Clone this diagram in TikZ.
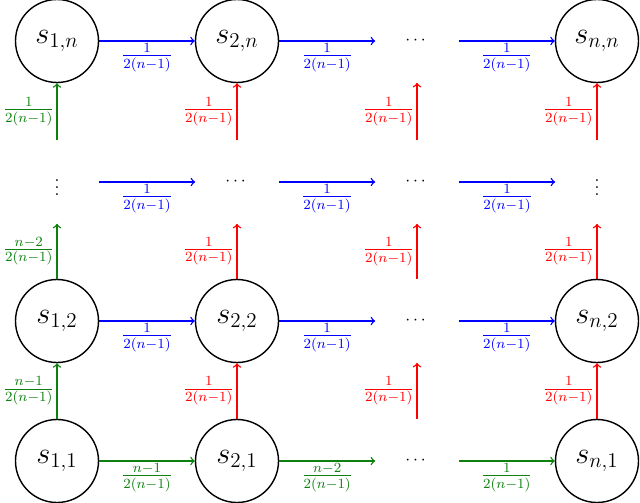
\documentclass[tikz,border=0pt]{standalone}
\usepackage{amsmath}
\usepackage{tikz}
\usetikzlibrary{calc}
\definecolor{dkgreen}{rgb}{0.05,0.5,0.05}
\newcommand{\pr}[2]{\frac{\textcolor{#1}{#2}}{\textcolor{#1}{2(n-1)}}}

\begin{document}
\begin{tikzpicture}[
	state/.style={circle, draw, thick, minimum size=1.66cm, inner sep=0pt, font=\LARGE},
	gap/.style={circle, minimum size=1.66cm, inner sep=0pt},
	arr/.style={->, thick},
	lb/.style={font=\large, inner sep=1pt}]
	\useasboundingbox (0,0) rectangle (12.8,10.04);
	% states
	\node[state] (s1n) at (1.14, 9.22) {$s_{1,n}$};
	\node[state] (s2n) at (4.74, 9.22) {$s_{2,n}$};
	\node[gap]   (d3n) at (8.34, 9.22) {$\cdots$};
	\node[state] (snn) at (11.94, 9.22) {$s_{n,n}$};
	\node[gap] (d1m) at (1.14, 6.4) {$\vdots$};
	\node[gap] (d2m) at (4.74, 6.4) {$\cdots$};
	\node[gap] (d3m) at (8.34, 6.4) {$\cdots$};
	\node[gap] (dnm) at (11.94, 6.4) {$\vdots$};
	\node[state] (s12) at (1.14, 3.62) {$s_{1,2}$};
	\node[state] (s22) at (4.74, 3.62) {$s_{2,2}$};
	\node[gap]   (d32) at (8.34, 3.62) {$\cdots$};
	\node[state] (sn2) at (11.94, 3.62) {$s_{n,2}$};
	\node[state] (s11) at (1.14, 0.82) {$s_{1,1}$};
	\node[state] (s21) at (4.74, 0.82) {$s_{2,1}$};
	\node[gap]   (d31) at (8.34, 0.82) {$\cdots$};
	\node[state] (sn1) at (11.94, 0.82) {$s_{n,1}$};

	% bottom row
	\draw[arr, dkgreen] (s11) -- (s21) node[midway, below, lb] {$\pr{dkgreen}{n-1}$};
	\draw[arr, dkgreen] (s21) -- (d31) node[midway, below, lb] {$\pr{dkgreen}{n-2}$};
	\draw[arr, dkgreen] (d31) -- (sn1) node[midway, below, lb] {$\pr{dkgreen}{1}$};
	% other rows
	\draw[arr, blue] (s12) -- (s22) node[midway, below, lb] {$\pr{blue}{1}$};
	\draw[arr, blue] (s22) -- (d32) node[midway, below, lb] {$\pr{blue}{1}$};
	\draw[arr, blue] (d32) -- (sn2) node[midway, below, lb] {$\pr{blue}{1}$};
	\draw[arr, blue] (d1m) -- (d2m) node[midway, below, lb] {$\pr{blue}{1}$};
	\draw[arr, blue] (d2m) -- (d3m) node[midway, below, lb] {$\pr{blue}{1}$};
	\draw[arr, blue] (d3m) -- (dnm) node[midway, below, lb] {$\pr{blue}{1}$};
	\draw[arr, blue] (s1n) -- (s2n) node[midway, below, lb] {$\pr{blue}{1}$};
	\draw[arr, blue] (s2n) -- (d3n) node[midway, below, lb] {$\pr{blue}{1}$};
	\draw[arr, blue] (d3n) -- (snn) node[midway, below, lb] {$\pr{blue}{1}$};

	% first column
	\draw[arr, dkgreen] (s11) -- (s12) node[midway, left, lb] {$\pr{dkgreen}{n-1}$};
	\draw[arr, dkgreen] (s12) -- (d1m) node[midway, left, lb] {$\pr{dkgreen}{n-2}$};
	\draw[arr, dkgreen] (d1m) -- (s1n) node[midway, left, lb] {$\pr{dkgreen}{1}$};
	% other columns
	\foreach \a/\b/\c in {s21/s22/d2m, d31/d32/d3m, sn1/sn2/dnm}{
		\draw[arr, red] (\a) -- (\b) node[midway, left, lb] {$\pr{red}{1}$};
		\draw[arr, red] (\b) -- (\c) node[midway, left, lb] {$\pr{red}{1}$};
	}
	\draw[arr, red] (d2m) -- (s2n) node[midway, left, lb] {$\pr{red}{1}$};
	\draw[arr, red] (d3m) -- (d3n) node[midway, left, lb] {$\pr{red}{1}$};
	\draw[arr, red] (dnm) -- (snn) node[midway, left, lb] {$\pr{red}{1}$};
\end{tikzpicture}
\end{document}
